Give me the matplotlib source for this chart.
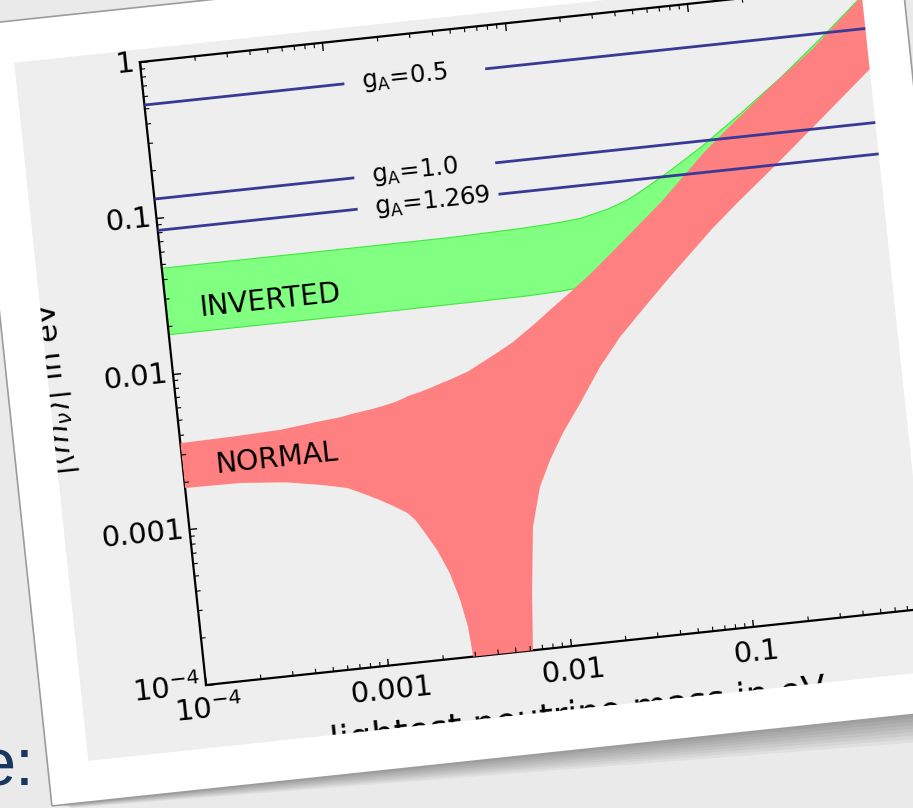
import numpy as np
import matplotlib
matplotlib.use('Agg')
import matplotlib.pyplot as plt
from matplotlib.patches import Rectangle, PathPatch, Polygon
from matplotlib.path import Path
from matplotlib.transforms import Affine2D, blended_transform_factory
from matplotlib.scale import LogTransform
import mpl_toolkits.axisartist.floating_axes as floating_axes
from mpl_toolkits.axisartist.grid_finder import FixedLocator, DictFormatter

W, H, DPI = 913, 808, 100
ANGLE = 6.06                 # the printed card is tilted
ORIGIN = (206.0, 123.0)      # axes lower-left corner, pixels from bottom-left
PX_X, PX_Y = 183.5, 156.6    # pixels per decade along x / y

# card and grey panel in tilted pixel coords (u0, v0, u1, v1)
CARD = (-166, -104, 767, 681)
PANEL = (-125, -63, 725, 639)

BG = '#eaeaea'
PANEL_GREY = '#eeeeee'

# ---- values ----
TICK_VALUES = [1e-4, 1e-3, 1e-2, 1e-1, 1.0]
TICK_TEXT = [r'$10^{-4}$', '0.001', '0.01', '0.1', '1']

# normal ordering band (eV)
nh_mass = [1.0e-4, 2.0e-4, 3.55e-4, 5.62e-4, 7.59e-4, 9.12e-4, 1.12e-3, 1.32e-3,
           1.55e-3, 1.70e-3, 1.84e-3, 2.14e-3, 2.43e-3, 2.67e-3, 2.84e-3, 2.91e-3,
           3.02e-3, 3.98e-3, 6.03e-3, 6.19e-3, 6.61e-3, 7.29e-3, 8.39e-3, 9.86e-3,
           0.0120, 0.0155, 0.0208, 0.0278, 0.0398, 0.0561, 0.100, 0.143, 0.251,
           0.449, 1.0]
nh_low = [1.84e-3, 1.82e-3, 1.71e-3, 1.55e-3, 1.43e-3, 1.29e-3, 1.14e-3, 1.02e-3,
          9.06e-4, 8.04e-4, 6.89e-4, 5.02e-4, 3.52e-4, 2.33e-4, 1.56e-4, 1.02e-4,
          1e-6, 1e-6, 1e-6, 1.0e-4, 2.32e-4, 6.07e-4, 1.08e-3, 1.57e-3, 2.29e-3,
          3.45e-3, 5.68e-3, 8.53e-3, 0.0129, 0.0190, 0.0355, 0.0504, 0.0851, 0.149,
          0.324]
nh_high = [3.57e-3, 3.63e-3, 3.72e-3, 3.94e-3, 4.07e-3, 4.22e-3, 4.35e-3, 4.50e-3,
           4.68e-3, 4.84e-3, 5.01e-3, 5.21e-3, 5.43e-3, 5.62e-3, 5.75e-3, 5.81e-3,
           5.86e-3, 6.52e-3, 8.32e-3, 8.47e-3, 8.81e-3, 9.38e-3, 0.0105, 0.0119,
           0.0141, 0.0174, 0.0224, 0.0295, 0.0417, 0.0582, 0.110, 0.155, 0.260,
           0.427, 0.955]

# inverted ordering band (eV)
ih_mass = [1e-4, 1e-3, 3.98e-3, 9.12e-3, 0.0141, 0.0180, 0.0200, 0.0282, 0.0363,
           0.0417, 0.0646, 0.100, 0.166, 0.288, 0.550, 1.0]
ih_low = [0.0179, 0.0179, 0.0180, 0.0181, 0.0184, 0.0188, 0.0200, 0.0240, 0.0282,
          0.0316, 0.0437, 0.0631, 0.100, 0.166, 0.302, 0.525]
ih_high = [0.0478, 0.0478, 0.0479, 0.0490, 0.0501, 0.0513, 0.0519, 0.0569, 0.0631,
           0.0681, 0.0906, 0.124, 0.186, 0.296, 0.540, 0.97]

ga_names = ['0.5', '1.0', '1.269']
ga_level = [0.53, 0.132, 0.083]
ga_gap = (1.225e-3, 7.5e-3)
ga_label_x = 1.54e-3

band_names = ['INVERTED', 'NORMAL']
band_label_y = [0.0252, 0.00246]
band_label_x = 1.51e-4


def rect_path(box, reverse=False):
    u0, v0, u1, v1 = box
    pts = [(u0, v0), (u1, v0), (u1, v1), (u0, v1)]
    return pts[::-1] if reverse else pts


fig = plt.figure(figsize=(W / DPI, H / DPI), dpi=DPI, facecolor=BG)
frame = Affine2D().rotate_deg(ANGLE).translate(*ORIGIN)

# slide text peeking out next to the card
fig.text(34 / W, 23 / H, 'e:', ha='right', va='baseline', fontsize=48,
         color='#17375e', family='Liberation Sans', zorder=-6)

# soft shadow under the card, heavier to the right
for k in range(1, 9):
    d = k / 8
    u0, v0, u1, v1 = CARD
    fig.add_artist(Polygon([(u0 + 10, v0), (u1, v0), (u1 + 4 * d, v0 - 30 * d),
                            (u0 + 20, v0 - 4 * d)], closed=True,
                           transform=frame, facecolor='black', alpha=0.045,
                           edgecolor='none', zorder=-5))

fig.add_artist(Rectangle((PANEL[0], PANEL[1]), PANEL[2] - PANEL[0],
                         PANEL[3] - PANEL[1], transform=frame,
                         facecolor=PANEL_GREY, edgecolor='none', zorder=-2))

# tilted log-log axes
log_tr = blended_transform_factory(LogTransform(10), LogTransform(10))
ax_tr = log_tr + Affine2D().translate(4, 4).scale(PX_X, PX_Y).rotate_deg(ANGLE)

corners = ax_tr.transform([[1e-4, 1e-4], [1, 1e-4], [1, 1], [1e-4, 1]])
lo, hi = corners.min(axis=0), corners.max(axis=0)
mid, half = (lo + hi) / 2, (hi - lo) / 2 * 1.02
left, bottom = ORIGIN[0] + mid[0] - half[0], ORIGIN[1] + mid[1] - half[1]
rect = [left / W, bottom / H, 2 * half[0] / W, 2 * half[1] / H]

fmt = DictFormatter(dict(zip(TICK_VALUES, TICK_TEXT)))
grid_helper = floating_axes.GridHelperCurveLinear(
    ax_tr, extremes=(1e-4, 1.0, 1e-4, 1.0),
    grid_locator1=FixedLocator(TICK_VALUES), grid_locator2=FixedLocator(TICK_VALUES),
    tick_formatter1=fmt, tick_formatter2=fmt)

ax = fig.add_axes(rect, axes_class=floating_axes.FloatingAxes,
                  grid_helper=grid_helper)
ax.patch.set_facecolor(PANEL_GREY)
for side in ['left', 'right', 'bottom', 'top']:
    ax.axis[side].line.set_linewidth(1.6)
    ax.axis[side].major_ticks.set_ticksize(5.5)
    ax.axis[side].major_ticks.set_markeredgewidth(1.0)
    ax.axis[side].major_ticklabels.set_fontsize(21)
    ax.axis[side].major_ticklabels.set_pad(4)

aux = ax.get_aux_axes(ax_tr)
aux.patch = ax.patch
ax.patch.zorder = 0.9

aux.fill_between(ih_mass, ih_low, ih_high, facecolor='#80ff80',
                 edgecolor='#3ee83e', lw=0.8, zorder=2)
aux.fill_between(nh_mass, nh_low, nh_high, facecolor='#ff8080',
                 edgecolor='none', zorder=3)

for name, level in zip(ga_names, ga_level):
    aux.plot([1e-4, ga_gap[0]], [level, level], color='#393996', lw=2, zorder=4)
    aux.plot([ga_gap[1], 1.0], [level, level], color='#393996', lw=2, zorder=4)
    aux.text(ga_label_x, level, r'g$_\mathregular{A}$=' + name, fontsize=17.5,
             ha='left', va='center', rotation=ANGLE, rotation_mode='anchor',
             zorder=5)

for name, yval in zip(band_names, band_label_y):
    aux.text(band_label_x, yval, name, fontsize=20.5, ha='left', va='center',
             rotation=ANGLE, rotation_mode='anchor', zorder=5)

# minor ticks, pointing in
minor = [m * 10.0 ** d for d in range(-4, 0) for m in range(2, 10)]
dx, dy = 10 ** (4 / PX_X), 10 ** (4 / PX_Y)
for val in minor:
    aux.plot([val, val], [1e-4, 1e-4 * dy], color='k', lw=0.8, zorder=6)
    aux.plot([val, val], [1.0, 1.0 / dy], color='k', lw=0.8, zorder=6)
    aux.plot([1e-4, 1e-4 * dx], [val, val], color='k', lw=0.8, zorder=6)
    aux.plot([1.0, 1.0 / dx], [val, val], color='k', lw=0.8, zorder=6)

# axis titles (cut by the card border like in the scan)
fig.text(367, -80, 'lightest neutrino mass in eV', transform=frame,
         fontsize=25.5, ha='center', va='baseline', rotation=ANGLE,
         rotation_mode='anchor', zorder=1)
fig.text(-118, 311, r'$|\langle m_\nu\rangle|$ in eV', transform=frame,
         fontsize=22, ha='center', va='center', rotation=90 + ANGLE,
         rotation_mode='anchor', zorder=1)

# white card border on top, hiding whatever spills past the grey panel
outer = rect_path(CARD)
inner = rect_path(PANEL, reverse=True)
codes = [Path.MOVETO, Path.LINETO, Path.LINETO, Path.LINETO, Path.CLOSEPOLY] * 2
ring = Path(outer + [outer[0]] + inner + [inner[0]], codes)
fig.add_artist(PathPatch(ring, facecolor='white', edgecolor='none',
                         transform=frame, zorder=8))
fig.add_artist(Rectangle((CARD[0], CARD[1]), CARD[2] - CARD[0], CARD[3] - CARD[1],
                         transform=frame, facecolor='none', edgecolor='#9c9c9c',
                         lw=1.2, zorder=9))

fig.savefig('out.png', dpi=DPI, facecolor=BG)
